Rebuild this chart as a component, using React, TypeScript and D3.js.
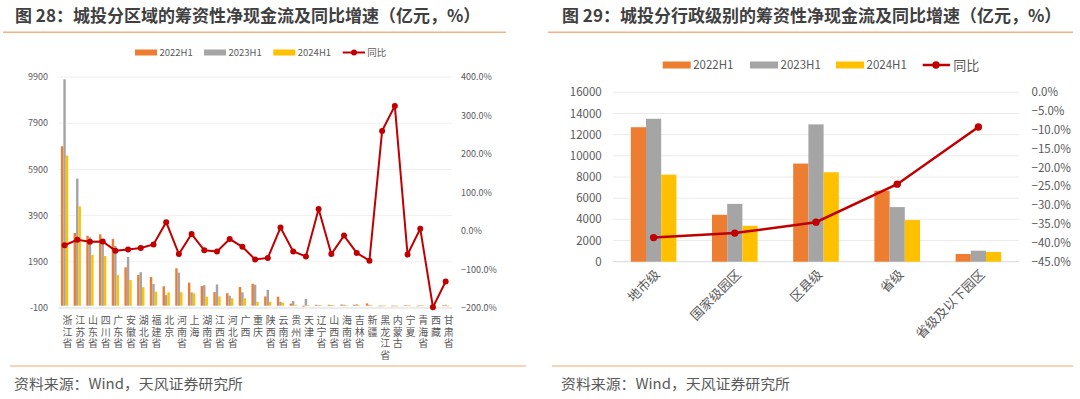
import React from "react";
import * as d3 from "d3";

const regions = ["浙江省","江苏省","山东省","四川省","广东省","安徽省","湖北省","福建省","北京","河南省","上海","湖南省","江西省","河北省","广西","重庆","陕西省","云南省","贵州省","天津","辽宁省","山西省","海南省","吉林省","新疆","黑龙江省","内蒙古","宁夏","青海省","西藏","甘肃省"];
const reg2022 = [6900,3150,3030,3090,2890,1660,1330,1240,840,1620,1000,850,590,540,810,950,400,390,90,-40,40,40,50,40,100,-10,-20,20,-10,5,20];
const reg2023 = [9800,5500,2960,2750,2590,2110,1450,940,460,1430,580,890,920,430,580,910,690,170,200,290,30,30,40,60,40,-20,-20,10,10,5,40];
const reg2024 = [6500,4300,2200,2150,1330,1110,800,610,580,580,540,390,400,320,320,170,170,130,40,30,20,20,20,10,10,10,-10,5,10,0,-30];
const regYoy = [-37,-23,-28,-27,-51,-48,-44,-35,23,-60,-8,-50,-53,-21,-41,-74,-70,9,-53,-66,57,-60,-12,-57,-77,260,325,-61,6,-198,-131];
const leftTicks = [-100,1900,3900,5900,7900,9900];
const leftPctTicks = [-200,-100,0,100,200,300,400];

const levels = ["地市级","国家级园区","区县级","省级","省级及以下园区"];
const lvl2022 = [12700,4430,9270,6700,730];
const lvl2023 = [13500,5460,12970,5160,1040];
const lvl2024 = [8220,3390,8450,3930,920];
const lvlYoy = [-38.6,-37.4,-34.5,-24.4,-9.2];
const rightTicks = [0,2000,4000,6000,8000,10000,12000,14000,16000];
const rightPctTicks = [0,-5,-10,-15,-20,-25,-30,-35,-40,-45];

const seriesNames = ["2022H1","2023H1","2024H1"];
const lineName = "同比";
const titleL = "图 28：城投分区域的筹资性净现金流及同比增速（亿元，%）";
const titleR = "图 29：城投分行政级别的筹资性净现金流及同比增速（亿元，%）";
const source = "资料来源：Wind，天风证券研究所";

const COLORS = ["#ED7D31","#A5A5A5","#FFC000"];
const RED = "#C00000";
const TXT = "#595959";
const FONT = "'Noto Sans CJK SC', 'Noto Sans', sans-serif";

export default function App() {
  // left chart scales
  const xL = d3.scaleBand<string>().domain(regions).range([58.2, 452]);
  const bwL = xL.bandwidth();
  const groupL = 7.3;
  const subL = d3.scaleBand<string>().domain(seriesNames).range([0, groupL]);
  const yL = d3.scaleLinear().domain([-100, 9900]).range([308, 77]);
  const yLp = d3.scaleLinear().domain([-200, 400]).range([308, 77]);
  const lineL = d3.line<number>().x((_, i) => xL(regions[i])! + bwL / 2).y((d) => yLp(d));
  const leftData = [reg2022, reg2023, reg2024];

  // right chart scales
  const xR = d3.scaleBand<string>().domain(levels).range([613, 1019]);
  const bwR = xR.bandwidth();
  const groupR = 45.6;
  const subR = d3.scaleBand<string>().domain(seriesNames).range([0, groupR]);
  const yR = d3.scaleLinear().domain([0, 16000]).range([261.7, 92.3]);
  const yRp = d3.scaleLinear().domain([-45, 0]).range([261.7, 92.3]);
  const lineR = d3.line<number>().x((_, i) => xR(levels[i])! + bwR / 2).y((d) => yRp(d));
  const rightData = [lvl2022, lvl2023, lvl2024];

  const pctFmt = d3.format(".1f");

  return (
    <div style={{ position: "absolute", left: 0, top: 0 }}>
      <svg width={1080} height={399} style={{ display: "block", background: "#fff", fontFamily: FONT }}>
        {/* titles */}
        <text x={15} y={22} fontSize={17} fontWeight="bold" fill="#404040">{titleL}</text>
        <text x={562} y={22} fontSize={17} fontWeight="bold" fill="#404040">{titleR}</text>
        <line x1={3} x2={506} y1={32.3} y2={32.3} stroke="#F4B183" strokeWidth={1.5} />
        <line x1={548} x2={1073} y1={32.3} y2={32.3} stroke="#F4B183" strokeWidth={1.5} />
        <line x1={10} x2={526} y1={366} y2={366} stroke="#FAD3B5" strokeWidth={2} />
        <line x1={552} x2={1073} y1={366} y2={366} stroke="#FAD3B5" strokeWidth={2} />
        <text x={14} y={388.5} fontSize={14} fill={TXT} textLength={229} lengthAdjust="spacingAndGlyphs">{source}</text>
        <text x={561} y={388.5} fontSize={14} fill={TXT} textLength={229} lengthAdjust="spacingAndGlyphs">{source}</text>

        {/* ===== LEFT CHART ===== */}
        {leftTicks.map((t) => (
          <g key={"lg" + t}>
            <line x1={58.2} x2={452} y1={yL(t)} y2={yL(t)} stroke={t === -100 ? "#D9D9D9" : "#F0F0F0"} strokeWidth={1} />
            <text x={48} y={yL(t)} dy="0.35em" textAnchor="end" fontSize={9} fill={TXT}>{t}</text>
          </g>
        ))}
        {leftPctTicks.map((t) => (
          <text key={"lp" + t} x={461} y={yLp(t)} dy="0.35em" fontSize={9} fill={TXT}>{pctFmt(t) + "%"}</text>
        ))}
        {leftData.map((arr, s) =>
          arr.map((v, i) => {
            const x = xL(regions[i])! + (bwL - groupL) / 2 + subL(seriesNames[s])!;
            const y0 = yL(0), y1 = yL(v);
            return <rect key={"lb" + s + "-" + i} x={x} y={Math.min(y0, y1)} width={subL.bandwidth()} height={Math.max(0.6, Math.abs(y1 - y0))} fill={COLORS[s]} />;
          })
        )}
        <path d={lineL(regYoy)!} fill="none" stroke={RED} strokeWidth={2} />
        {regYoy.map((v, i) => (
          <circle key={"lc" + i} cx={xL(regions[i])! + bwL / 2} cy={yLp(v)} r={3} fill={RED} />
        ))}
        {regions.map((r, i) => (
          <text key={"lx" + i} x={xL(r)! + bwL / 2 + 3} y={315} writingMode="vertical-rl"
            style={{ writingMode: "vertical-rl", letterSpacing: "1.8px" } as any}
            fontSize={10} fill={TXT}>{r}</text>
        ))}
        {/* left legend */}
        {[135, 204, 273.3].map((lx, s) => (
          <g key={"ll" + s}>
            <rect x={lx} y={49.5} width={22} height={6} fill={COLORS[s]} />
            <text x={lx + 24.5} y={52.5} dy="0.35em" fontSize={9.5} fill={TXT}>{seriesNames[s]}</text>
          </g>
        ))}
        <line x1={342.7} x2={365} y1={52.5} y2={52.5} stroke={RED} strokeWidth={2} />
        <circle cx={354} cy={52.5} r={3} fill={RED} />
        <text x={367.3} y={52.5} dy="0.35em" fontSize={9.5} fill={TXT}>{lineName}</text>

        {/* ===== RIGHT CHART ===== */}
        {rightTicks.map((t) => (
          <g key={"rg" + t}>
            <line x1={613} x2={1019} y1={yR(t)} y2={yR(t)} stroke={t === 0 ? "#D9D9D9" : "#EBEBEB"} strokeWidth={1} />
            <text x={601.7} y={yR(t)} dy="0.35em" textAnchor="end" fontSize={11.5} fill={TXT}>{t}</text>
          </g>
        ))}
        {rightPctTicks.map((t) => (
          <text key={"rp" + t} x={1031.5} y={yRp(t)} dy="0.35em" fontSize={11.5} fill={TXT}>{pctFmt(t) + "%"}</text>
        ))}
        {rightData.map((arr, s) =>
          arr.map((v, i) => {
            const x = xR(levels[i])! + (bwR - groupR) / 2 + subR(seriesNames[s])!;
            return <rect key={"rb" + s + "-" + i} x={x} y={yR(v)} width={subR.bandwidth()} height={yR(0) - yR(v)} fill={COLORS[s]} />;
          })
        )}
        <path d={lineR(lvlYoy)!} fill="none" stroke={RED} strokeWidth={2.5} />
        {lvlYoy.map((v, i) => (
          <circle key={"rc" + i} cx={xR(levels[i])! + bwR / 2} cy={yRp(v)} r={3.7} fill={RED} />
        ))}
        {levels.map((l) => {
          const cx = xR(l)! + bwR / 2 + 4;
          return (
            <text key={"rx" + l} transform={`translate(${cx},${272}) rotate(-45)`} textAnchor="end" dy="0.35em" fontSize={13} fill={TXT}>{l}</text>
          );
        })}
        {/* right legend */}
        {[662.7, 750, 836].map((lx, s) => (
          <g key={"rl" + s}>
            <rect x={lx} y={61.5} width={28} height={7} fill={COLORS[s]} />
            <text x={lx + 30.5} y={65} dy="0.35em" fontSize={11.5} fill={TXT}>{seriesNames[s]}</text>
          </g>
        ))}
        <line x1={922.7} x2={950} y1={65} y2={65} stroke={RED} strokeWidth={2.5} />
        <circle cx={936} cy={65} r={3.7} fill={RED} />
        <text x={953.3} y={65} dy="0.35em" fontSize={13} fill={TXT}>{lineName}</text>
      </svg>
    </div>
  );
}
